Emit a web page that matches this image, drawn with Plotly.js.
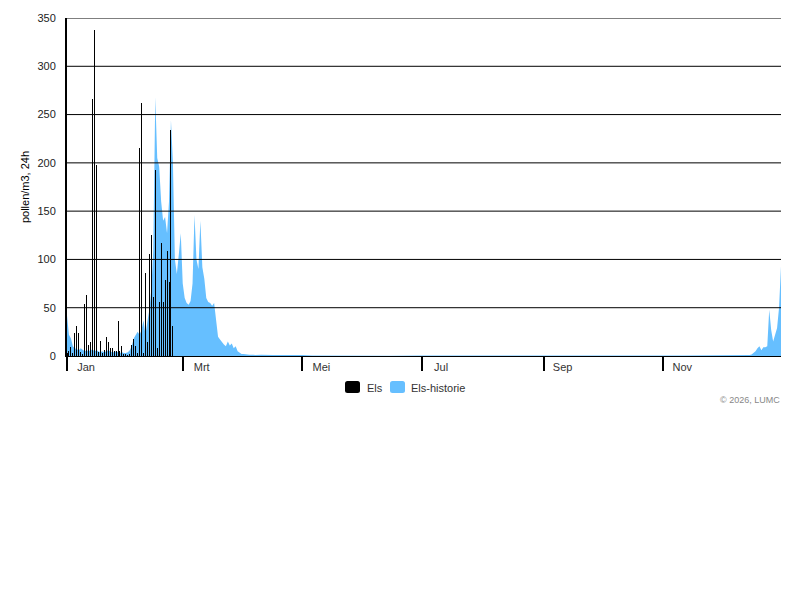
<!DOCTYPE html>
<html>
<head>
<meta charset="utf-8">
<script src="https://cdn.plot.ly/plotly-3.0.1.min.js"></script>
<style>
  html, body { margin: 0; padding: 0; background: #fff; }
  #chart { width: 800px; height: 600px; }
  /* keep the one-pixel daily bars sharp */
  #chart g.trace.bars path { shape-rendering: crispEdges !important; }
</style>
</head>
<body>
<div id="chart"></div>
<script>
// Daily pollen counts for alder (Els), starting 1 January
const elsValues = [3, 5, 9, 3, 24, 31, 24, 4, 2, 54, 63, 11, 15, 266, 338, 198, 4, 16, 3, 6,
  20, 15, 8, 8, 5, 5, 36, 5, 10, 2, 2, 1, 2, 11, 18, 10, 3, 215, 262, 3,
  86, 14, 106, 125, 61, 193, 8, 56, 117, 56, 79, 109, 77, 234, 31];

// Historical average, daily from 1 January (season peak Jan - Apr)
const historyEarly = [42, 22, 18, 10, 8, 7, 6, 8, 6, 5, 6, 5, 6, 7, 5, 6, 5, 4, 5, 4,
  5, 6, 5, 4, 4, 5, 4, 3, 4, 3, 3, 4, 6, 10, 18, 22, 25, 22, 27, 37,
  22, 36, 48, 70, 110, 268, 205, 196, 160, 140, 144, 127, 160, 244, 200, 100, 85, 105, 127, 75,
  60, 55, 53, 57, 75, 146, 100, 90, 140, 92, 80, 60, 56, 55, 52, 55, 35, 20, 17, 14,
  12, 10, 15, 11, 13, 8, 10, 5, 3, 2, 2, 2, 1.5, 1.2, 1.5, 1.2, 1, 1.3, 1, 1.2];

// Historical average over the quiet months (day of year / value)
const historyMidDays = [105, 110, 115, 120, 125, 130, 140, 150, 165, 180, 200, 220, 240, 260, 280, 300, 315, 325, 333];
const historyMidValues = [1, 1.2, 0.8, 1, 0.6, 0.5, 0.4, 0.5, 0.3, 0.4, 0.3, 0.4, 0.3, 0.4, 0.3, 0.4, 0.5, 0.6, 0.5];

// Historical average, daily from 1 December
const historyDecStart = 334;
const historyDec = [0.5, 0.6, 0.5, 0.7, 0.5, 0.6, 0.8, 0.5, 0.7, 0.6, 0.8, 1, 0.8, 1,
  1, 1.5, 3, 5, 8, 10, 6, 9, 9, 10, 48, 27, 15, 22, 29, 50, 93];

// Axis ticks
const tickDates = ['2026-01-01', '2026-03-01', '2026-05-01', '2026-07-01', '2026-09-01', '2026-11-01'];
const tickLabels = ['Jan', 'Mrt', 'Mei', 'Jul', 'Sep', 'Nov'];
const yMax = 350, yStep = 50;

const YEAR = 2026;
function dayToDate(k) {
  return new Date(Date.UTC(YEAR, 0, 1 + k)).toISOString().slice(0, 10);
}

const elsDates = elsValues.map((_, k) => dayToDate(k));

const histX = [];
const histY = [];
historyEarly.forEach((v, k) => { histX.push(dayToDate(k)); histY.push(v); });
historyMidDays.forEach((d, i) => { histX.push(dayToDate(d)); histY.push(historyMidValues[i]); });
historyDec.forEach((v, i) => { histX.push(dayToDate(historyDecStart + i)); histY.push(v); });

const BLUE = '#66bfff';
const FONT = 'Liberation Sans, Arial, sans-serif';

// Plot area geometry in pixels
const M = { l: 67, r: 19, t: 18, b: 244 };
const W = 800, H = 600;
const PW = W - M.l - M.r, PH = H - M.t - M.b;
const px = x => (x - M.l) / PW;
const py = y => (H - M.b - y) / PH;

function roundRect(x0, y0, x1, y1, r) {
  const rx = r / PW, ry = r / PH;
  const a = px(x0), b = px(x1), top = py(y0), bot = py(y1);
  return `M${a + rx},${top} L${b - rx},${top} Q${b},${top} ${b},${top - ry} ` +
         `L${b},${bot + ry} Q${b},${bot} ${b - rx},${bot} L${a + rx},${bot} ` +
         `Q${a},${bot} ${a},${bot + ry} L${a},${top - ry} Q${a},${top} ${a + rx},${top} Z`;
}

// Horizontal grid lines, drawn over the filled history area
const gridShapes = [];
for (let v = yStep; v <= yMax; v += yStep) {
  gridShapes.push({ type: 'line', xref: 'paper', yref: 'y', x0: 0, x1: 1, y0: v, y1: v,
    line: { color: '#000', width: 1 }, layer: 'above' });
}

const traces = [
  {
    type: 'scatter',
    name: 'Els-historie',
    x: histX,
    y: histY,
    mode: 'lines',
    line: { width: 0, color: BLUE },
    fill: 'tozeroy',
    fillcolor: BLUE,
    showlegend: false
  },
  {
    // on an overlaid x axis so the bars sit on top of the area
    type: 'bar',
    name: 'Els',
    x: elsDates,
    y: elsValues,
    xaxis: 'x2',
    yaxis: 'y',
    width: 0.51 * 86400000,
    marker: { color: '#000', line: { width: 0 } },
    showlegend: false
  }
];

const layout = {
  width: W,
  height: H,
  margin: M,
  paper_bgcolor: '#fff',
  plot_bgcolor: '#fff',
  font: { family: FONT, size: 11, color: '#333' },
  showlegend: false,
  xaxis: {
    type: 'date',
    range: ['2026-01-01', '2026-12-31'],
    tickvals: tickDates,
    ticktext: tickLabels,
    ticks: 'outside',
    ticklen: 14,
    tickwidth: 2,
    tickcolor: '#000',
    ticklabelshift: 19,
    ticklabelstandoff: -13,
    showgrid: false,
    zeroline: false,
    showline: true,
    linecolor: '#000',
    linewidth: 1,
    tickfont: { family: FONT, size: 11, color: '#333' },
    fixedrange: true
  },
  xaxis2: {
    type: 'date',
    overlaying: 'x',
    matches: 'x',
    visible: false,
    showgrid: false,
    zeroline: false
  },
  yaxis: {
    range: [0, yMax],
    dtick: yStep,
    showgrid: false,
    zeroline: false,
    showline: true,
    linecolor: '#000',
    linewidth: 2,
    ticks: '',
    ticklabelstandoff: 7,
    tickfont: { family: FONT, size: 11, color: '#222' },
    title: { text: 'pollen/m3, 24h', font: { family: FONT, size: 11, color: '#000' }, standoff: 6 },
    fixedrange: true
  },
  shapes: gridShapes.concat([
    { type: 'path', xref: 'paper', yref: 'paper', path: roundRect(345, 381, 360, 393, 2.5),
      fillcolor: '#000', line: { width: 0 } },
    { type: 'path', xref: 'paper', yref: 'paper', path: roundRect(390, 381, 405, 393, 2.5),
      fillcolor: BLUE, line: { width: 0 } }
  ]),
  annotations: [
    { xref: 'paper', yref: 'paper', x: px(365), y: py(388), xanchor: 'left', yanchor: 'middle',
      text: 'Els', showarrow: false, font: { family: FONT, size: 11, color: '#333' } },
    { xref: 'paper', yref: 'paper', x: px(409), y: py(388), xanchor: 'left', yanchor: 'middle',
      text: 'Els-historie', showarrow: false, font: { family: FONT, size: 11, color: '#333' } },
    { xref: 'paper', yref: 'paper', x: px(782), y: py(400), xanchor: 'right', yanchor: 'middle',
      text: '© 2026, LUMC', showarrow: false, font: { family: FONT, size: 9, color: '#888' } }
  ]
};

Plotly.newPlot('chart', traces, layout, { displayModeBar: false, staticPlot: true });
</script>
</body>
</html>
